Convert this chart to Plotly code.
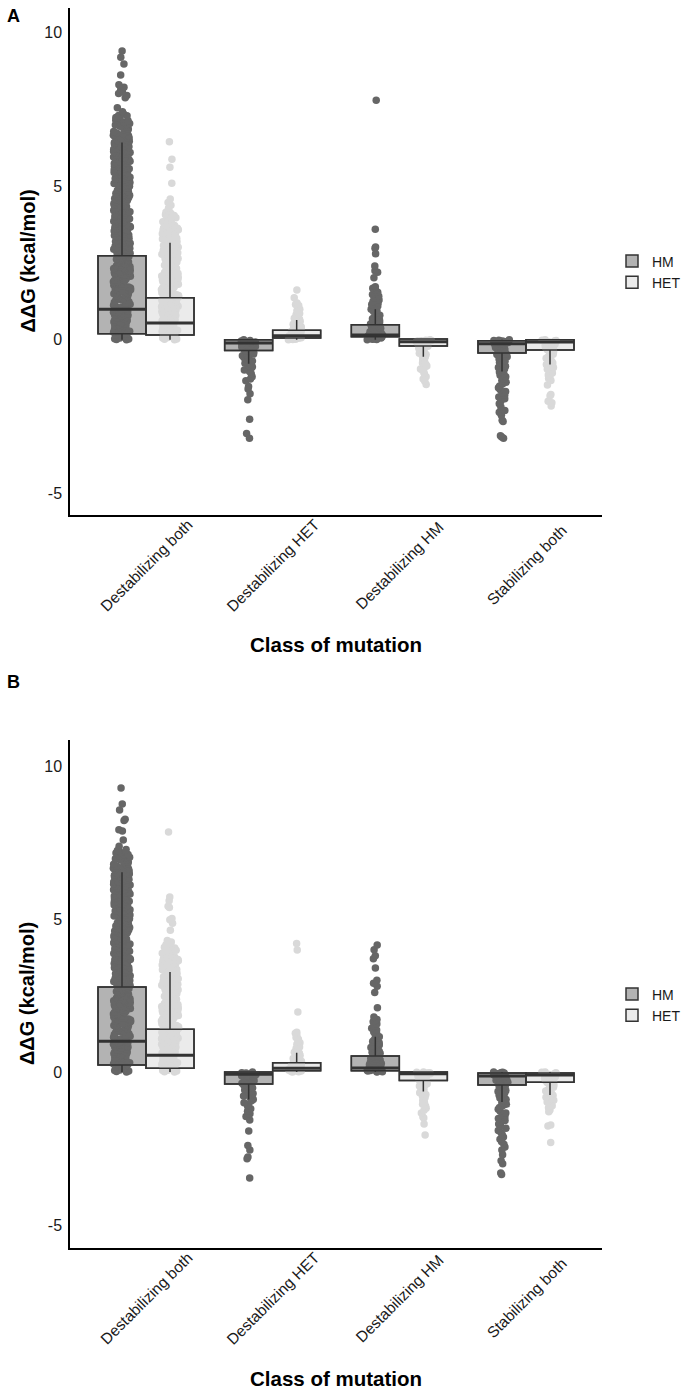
import plotly.graph_objects as go

# ---------------- data ----------------
CATEGORIES = ["Destabilizing both", "Destabilizing HET", "Destabilizing HM", "Stabilizing both"]
GROUPS = ["HM", "HET"]
Y_TICKS = [-5, 0, 5, 10]
Y_TICK_TEXT = ["-5", "0", "5", "10"]

# box statistics: one value per category
A_HM_Q1 = [0.20, -0.35, 0.10, -0.43]
A_HM_MEDIAN = [1.00, -0.10, 0.16, -0.13]
A_HM_Q3 = [2.74, 0.00, 0.49, -0.03]
A_HM_LOW = [0.00, -0.78, 0.00, -1.03]
A_HM_HIGH = [6.42, 0.00, 1.00, 0.00]

A_HET_Q1 = [0.16, 0.06, -0.20, -0.33]
A_HET_MEDIAN = [0.55, 0.13, -0.06, -0.07]
A_HET_Q3 = [1.37, 0.31, 0.03, 0.00]
A_HET_LOW = [0.00, 0.00, -0.55, -0.80]
A_HET_HIGH = [3.16, 0.65, 0.03, 0.00]

B_HM_Q1 = [0.23, -0.39, 0.04, -0.42]
B_HM_MEDIAN = [1.01, -0.07, 0.13, -0.13]
B_HM_Q3 = [2.78, 0.00, 0.52, -0.03]
B_HM_LOW = [0.00, -0.90, 0.00, -0.98]
B_HM_HIGH = [6.53, 0.00, 1.15, 0.00]

B_HET_Q1 = [0.12, 0.04, -0.28, -0.33]
B_HET_MEDIAN = [0.55, 0.12, -0.06, -0.10]
B_HET_Q3 = [1.40, 0.30, 0.00, -0.03]
B_HET_LOW = [0.00, 0.00, -0.64, -0.75]
B_HET_HIGH = [3.27, 0.63, 0.00, 0.00]


def vals(s):
    return [float(t) for t in s.split()]


# individual points
A_HM_DESTAB_BOTH = vals("""
0 0.01 0.03 0.04 0.06 0.09 0.1 0.12 0.15 0.16 0.18 0.21 0.22 0.25 0.27 0.28 0.31 0.34 0.35 0.37
0.4 0.42 0.43 0.46 0.49 0.5 0.52 0.55 0.57 0.58 0.61 0.64 0.65 0.68 0.7 0.71 0.74 0.77 0.79 0.8
0.83 0.86 0.87 0.9 0.92 0.94 0.97 0.99 1.02 1.05 1.07 1.11 1.13 1.16 1.19 1.22 1.24 1.28 1.31 1.33
1.36 1.4 1.42 1.45 1.49 1.51 1.54 1.58 1.6 1.63 1.67 1.69 1.72 1.76 1.78 1.81 1.85 1.87 1.9 1.94
1.96 1.99 2.03 2.05 2.08 2.12 2.14 2.17 2.21 2.23 2.26 2.3 2.32 2.35 2.39 2.41 2.44 2.48 2.5 2.53
2.57 2.59 2.62 2.66 2.68 2.71 2.75 2.77 2.8 2.84 2.86 2.89 2.93 2.95 2.98 3.02 3.05 3.07 3.11 3.14
3.16 3.2 3.23 3.25 3.29 3.32 3.34 3.38 3.41 3.43 3.47 3.5 3.52 3.56 3.59 3.61 3.65 3.68 3.7 3.74
3.77 3.79 3.83 3.86 3.88 3.92 3.95 3.97 4.01 4.04 4.06 4.1 4.13 4.15 4.19 4.22 4.24 4.28 4.31 4.33
4.37 4.4 4.42 4.46 4.49 4.51 4.55 4.58 4.6 4.64 4.67 4.69 4.73 4.76 4.78 4.82 4.85 4.87 4.91 4.94
4.96 5.0 5.03 5.05 5.09 5.12 5.14 5.18 5.21 5.23 5.27 5.3 5.32 5.36 5.39 5.41 5.45 5.48 5.5 5.54
5.57 5.59 5.63 5.66 5.68 5.72 5.75 5.77 5.81 5.84 5.86 5.9 5.93 5.95 5.99 6.02 6.04 6.08 6.11 6.13
6.17 6.2 6.22 6.26 6.29 6.31 6.35 6.38 6.4 6.44 6.47 6.51 6.55 6.58 6.62 6.66 6.69 6.73 6.78 6.81
6.86 6.9 6.95 6.99 7.04 7.08 7.13 7.18 7.24 7.29 7.35 7.42 7.55 7.88 7.95 8.02 8.08 8.15 8.22 8.3
8.62 8.98 9.2 9.4
1.5 1.56 1.62 1.7 1.75 1.83 1.89 1.93 2.01 2.07 2.1 2.16 2.19 2.25 2.29 2.34 2.38 2.43 2.47 2.52
2.56 2.61 2.65 2.7 2.74 2.79 2.82 2.88 2.92 2.97 3.0 3.04 3.09 3.13 3.18 3.22 3.27 3.31 3.36 3.4
3.45 3.49 3.54 3.58 3.63 3.67 3.72 3.76 3.81 3.85 3.9 3.94 3.99 4.03 4.08 4.12 4.17 4.21 4.26 4.3
4.35 4.39 4.44 4.48 4.53 4.57 4.62 4.66 4.71 4.75 4.8 4.84 4.89 4.93 4.98 5.02 5.07 5.11 5.16 5.2
5.25 5.29 5.34 5.38 5.43 5.47 5.52 5.56 5.61 5.65 5.7 5.74 5.79 5.83 5.88 5.92 5.97 6.01 6.06 6.1
6.15 6.19 6.24 6.28 6.33 6.37 6.42 6.46 6.5 6.57 6.64 6.7 6.77 6.84 6.92 7.0 7.07 7.15 7.22 7.3
""")
A_HM_DESTAB_HET = vals("""
0 -0.02 -0.04 -0.05 -0.07 -0.09 -0.11 -0.13 -0.16 -0.18 -0.2 -0.22 -0.25 -0.27 -0.3 -0.32 -0.35
-0.37 -0.4 -0.43 -0.46 -0.49 -0.52 -0.55 -0.58 -0.62 -0.65 -0.69 -0.72 -0.76 -0.8 -0.84 -0.88
-0.92 -0.98 -1.03 -1.1 -1.2 -1.27 -1.33 -1.52 -1.6 -1.75 -1.95 -2.58 -3.05 -3.2
""")
A_HM_DESTAB_HM = vals("""
0 0.01 0.02 0.03 0.04 0.05 0.06 0.07 0.08 0.09 0.1 0.11 0.12 0.14 0.15 0.17 0.18 0.2 0.22 0.24
0.26 0.28 0.3 0.32 0.35 0.38 0.4 0.43 0.46 0.49 0.52 0.55 0.58 0.62 0.65 0.69 0.72 0.76 0.8 0.84
0.88 0.92 0.96 1.0 1.05 1.1 1.15 1.2 1.25 1.3 1.36 1.42 1.48 1.55 1.62 1.68 1.73 2.02 2.2 2.25
2.4 2.8 2.98 3.02 3.6 7.8
""")
A_HM_STAB_BOTH = vals("""
0 -0.01 -0.02 -0.03 -0.04 -0.05 -0.06 -0.08 -0.09 -0.1 -0.12 -0.13 -0.15 -0.17 -0.19 -0.21 -0.23
-0.25 -0.28 -0.3 -0.33 -0.36 -0.39 -0.42 -0.45 -0.48 -0.52 -0.55 -0.58 -0.62 -0.66 -0.7 -0.74
-0.78 -0.82 -0.86 -0.9 -0.95 -1.0 -1.05 -1.1 -1.15 -1.2 -1.26 -1.32 -1.38 -1.44 -1.5 -1.56 -1.62
-1.68 -1.74 -1.8 -1.86 -1.92 -2.0 -2.08 -2.18 -2.3 -2.36 -2.45 -2.62 -2.66 -3.12 -3.16 -3.2
""")
A_HET_DESTAB_BOTH = vals("""
0 0.02 0.03 0.06 0.08 0.09 0.12 0.14 0.15 0.18 0.2 0.22 0.25 0.27 0.28 0.31 0.33 0.35 0.38 0.4
0.41 0.44 0.46 0.48 0.51 0.53 0.54 0.57 0.59 0.61 0.64 0.66 0.67 0.7 0.72 0.74 0.77 0.79 0.8 0.83
0.85 0.87 0.9 0.92 0.93 0.96 0.98 1.0 1.03 1.05 1.06 1.09 1.11 1.13 1.16 1.18 1.19 1.22 1.24 1.26
1.29 1.31 1.32 1.35 1.37 1.39 1.42 1.44 1.45 1.48 1.51 1.54 1.57 1.6 1.63 1.66 1.69 1.72 1.75 1.78
1.81 1.84 1.87 1.9 1.93 1.96 1.99 2.02 2.05 2.08 2.11 2.14 2.17 2.2 2.23 2.26 2.29 2.32 2.35 2.38
2.41 2.44 2.47 2.5 2.53 2.56 2.59 2.62 2.65 2.68 2.71 2.74 2.77 2.8 2.83 2.86 2.89 2.92 2.95 2.98
3.01 3.04 3.07 3.1 3.13 3.16 3.19 3.22 3.25 3.28 3.31 3.34 3.37 3.4 3.43 3.46 3.49 3.52 3.55 3.58
3.61 3.64 3.68 3.72 3.76 3.8 3.84 3.89 3.94 3.99 4.05 4.12 4.2 4.28 4.38 4.47 4.58 5.1 5.62 5.88
6.45
1.02 1.08 1.15 1.21 1.27 1.34 1.4 1.47 1.53 1.59 1.65 1.71 1.77 1.83 1.89 1.95 2.01 2.07 2.13 2.19
2.25 2.31 2.37 2.43 2.49 2.55 2.61 2.67 2.73 2.79 2.85 2.91 2.97 3.03 3.09 3.15 3.21 3.27 3.33 3.39
3.45 3.51 3.57 3.63 3.69 3.75 3.82 3.9 3.97 4.07 4.15
""")
A_HET_DESTAB_HET = vals("""
0 0.01 0.02 0.03 0.04 0.05 0.06 0.07 0.08 0.09 0.1 0.11 0.12 0.13 0.15 0.16 0.17 0.19 0.2 0.22
0.24 0.26 0.28 0.3 0.32 0.34 0.36 0.39 0.42 0.45 0.48 0.51 0.54 0.57 0.6 0.63 0.67 0.7 0.74 0.78
0.82 0.86 0.9 0.95 1.0 1.05 1.12 1.15 1.2 1.37 1.62
""")
A_HET_DESTAB_HM = vals("""
0 -0.01 -0.02 -0.03 -0.04 -0.05 -0.06 -0.07 -0.08 -0.1 -0.11 -0.13 -0.15 -0.17 -0.19 -0.21 -0.24
-0.27 -0.3 -0.33 -0.36 -0.4 -0.44 -0.48 -0.52 -0.56 -0.6 -0.65 -0.7 -0.75 -0.8 -0.85 -0.9 -0.95
-1.0 -1.06 -1.12 -1.2 -1.27 -1.35 -1.45
""")
A_HET_STAB_BOTH = vals("""
0 -0.01 -0.02 -0.03 -0.04 -0.05 -0.07 -0.08 -0.1 -0.12 -0.14 -0.16 -0.18 -0.2 -0.23 -0.26 -0.29
-0.32 -0.35 -0.39 -0.43 -0.47 -0.51 -0.55 -0.6 -0.65 -0.7 -0.75 -0.8 -0.85 -0.9 -0.96 -1.02 -1.08
-1.14 -1.2 -1.26 -1.32 -1.47 -1.78 -1.82 -2.0 -2.05 -2.15
""")

B_HM_DESTAB_BOTH = vals("""
0 0.02 0.03 0.05 0.07 0.1 0.11 0.13 0.16 0.18 0.19 0.22 0.24 0.26 0.29 0.3 0.32 0.35 0.37 0.38
0.41 0.44 0.45 0.47 0.5 0.52 0.54 0.56 0.59 0.6 0.62 0.65 0.67 0.69 0.72 0.73 0.76 0.78 0.81 0.82
0.85 0.88 0.89 0.91 0.94 0.96 0.98 1.01 1.04 1.06 1.09 1.12 1.14 1.17 1.2 1.23 1.25 1.29 1.32 1.34
1.37 1.41 1.43 1.46 1.5 1.52 1.55 1.59 1.61 1.64 1.68 1.7 1.73 1.77 1.79 1.82 1.86 1.88 1.91 1.95
1.97 2.0 2.04 2.06 2.09 2.13 2.15 2.18 2.22 2.24 2.27 2.31 2.33 2.36 2.4 2.42 2.45 2.49 2.51 2.54
2.58 2.6 2.63 2.67 2.69 2.72 2.76 2.78 2.81 2.85 2.87 2.9 2.94 2.96 2.99 3.03 3.06 3.08 3.12 3.15
3.17 3.21 3.24 3.26 3.3 3.33 3.35 3.39 3.42 3.44 3.48 3.51 3.53 3.57 3.6 3.62 3.66 3.69 3.71 3.75
3.78 3.8 3.84 3.87 3.89 3.93 3.96 3.98 4.02 4.05 4.07 4.11 4.14 4.16 4.2 4.23 4.25 4.29 4.32 4.34
4.38 4.41 4.43 4.47 4.5 4.52 4.56 4.59 4.61 4.65 4.68 4.7 4.74 4.77 4.79 4.83 4.86 4.88 4.92 4.95
4.97 5.01 5.04 5.06 5.1 5.13 5.15 5.19 5.22 5.24 5.28 5.31 5.33 5.37 5.4 5.42 5.46 5.49 5.51 5.55
5.58 5.6 5.64 5.67 5.69 5.73 5.76 5.78 5.82 5.85 5.87 5.91 5.94 5.96 6.0 6.03 6.05 6.09 6.12 6.14
6.18 6.21 6.23 6.27 6.3 6.32 6.36 6.39 6.41 6.45 6.48 6.5 6.54 6.57 6.61 6.64 6.68 6.72 6.75 6.8
6.84 6.88 6.93 6.97 7.02 7.06 7.11 7.16 7.22 7.27 7.38 7.58 7.88 7.92 8.22 8.26 8.56 8.76 9.28
1.52 1.58 1.65 1.72 1.76 1.84 1.9 1.94 2.02 2.08 2.11 2.17 2.2 2.26 2.3 2.35 2.39 2.44 2.48 2.53
2.57 2.62 2.66 2.71 2.75 2.8 2.83 2.89 2.93 2.98 3.01 3.05 3.1 3.14 3.19 3.23 3.28 3.32 3.37 3.41
3.46 3.5 3.55 3.59 3.64 3.68 3.73 3.77 3.82 3.86 3.91 3.95 4.0 4.04 4.09 4.13 4.18 4.22 4.27 4.31
4.36 4.4 4.45 4.49 4.54 4.58 4.63 4.67 4.72 4.76 4.81 4.85 4.9 4.94 4.99 5.03 5.08 5.12 5.17 5.21
5.26 5.3 5.35 5.39 5.44 5.48 5.53 5.57 5.62 5.66 5.71 5.75 5.8 5.84 5.89 5.93 5.98 6.02 6.07 6.11
6.16 6.2 6.25 6.29 6.34 6.38 6.43 6.47 6.52 6.59 6.66 6.73 6.79 6.86 6.94 7.01 7.09 7.17 7.24
""")
B_HM_DESTAB_HET = vals("""
0 -0.02 -0.03 -0.05 -0.07 -0.09 -0.12 -0.14 -0.16 -0.19 -0.21 -0.24 -0.26 -0.29 -0.31 -0.34 -0.37
-0.4 -0.43 -0.46 -0.49 -0.52 -0.56 -0.59 -0.63 -0.66 -0.7 -0.74 -0.78 -0.82 -0.86 -0.9 -0.95 -1.0
-1.06 -1.12 -1.2 -1.28 -1.36 -1.45 -1.57 -1.93 -2.4 -2.55 -2.78 -2.83 -3.46
""")
B_HM_DESTAB_HM = vals("""
0 0.01 0.02 0.03 0.04 0.05 0.06 0.07 0.08 0.09 0.1 0.12 0.13 0.15 0.16 0.18 0.2 0.22 0.24 0.26
0.28 0.31 0.33 0.36 0.39 0.42 0.45 0.48 0.51 0.54 0.58 0.61 0.65 0.68 0.72 0.76 0.8 0.84 0.88 0.92
0.96 1.0 1.05 1.1 1.15 1.2 1.25 1.31 1.37 1.43 1.5 1.57 1.64 1.72 1.8 2.1 2.6 2.8 2.9 3.0 3.4 3.7
3.8 4.0 4.15
""")
B_HM_STAB_BOTH = vals("""
0 -0.01 -0.02 -0.03 -0.04 -0.06 -0.07 -0.09 -0.1 -0.12 -0.14 -0.16 -0.18 -0.2 -0.22 -0.25 -0.27
-0.3 -0.33 -0.36 -0.39 -0.42 -0.46 -0.49 -0.53 -0.56 -0.6 -0.64 -0.68 -0.72 -0.76 -0.8 -0.85 -0.9
-0.95 -1.0 -1.05 -1.1 -1.16 -1.22 -1.28 -1.34 -1.4 -1.46 -1.52 -1.58 -1.64 -1.7 -1.77 -1.84 -1.91
-1.98 -2.05 -2.12 -2.2 -2.28 -2.36 -2.45 -2.55 -2.7 -2.9 -3.0 -3.3 -3.35
""")
B_HET_DESTAB_BOTH = vals("""
0 0.01 0.03 0.05 0.06 0.09 0.11 0.12 0.15 0.17 0.19 0.21 0.24 0.25 0.28 0.3 0.32 0.34 0.37 0.39
0.41 0.43 0.46 0.47 0.5 0.52 0.54 0.56 0.59 0.61 0.63 0.65 0.68 0.69 0.72 0.74 0.76 0.78 0.81 0.83
0.85 0.87 0.9 0.91 0.94 0.96 0.98 1.01 1.03 1.05 1.07 1.1 1.12 1.14 1.17 1.19 1.21 1.23 1.26 1.28
1.3 1.33 1.35 1.37 1.4 1.43 1.46 1.49 1.52 1.55 1.58 1.61 1.64 1.67 1.7 1.73 1.76 1.79 1.82 1.85
1.88 1.91 1.94 1.97 2.0 2.03 2.06 2.09 2.12 2.15 2.18 2.21 2.24 2.27 2.3 2.33 2.36 2.39 2.42 2.45
2.48 2.51 2.54 2.57 2.6 2.63 2.66 2.69 2.72 2.75 2.78 2.81 2.84 2.87 2.9 2.93 2.96 2.99 3.02 3.05
3.08 3.11 3.14 3.17 3.2 3.23 3.26 3.29 3.32 3.35 3.38 3.41 3.44 3.47 3.5 3.53 3.56 3.59 3.62 3.65
3.68 3.71 3.74 3.77 3.8 3.84 3.88 3.92 3.96 4.0 4.05 4.1 4.16 4.22 4.3 4.63 4.86 4.98 5.02 5.38
5.42 5.6 5.72 7.84
1.04 1.09 1.16 1.22 1.28 1.35 1.41 1.48 1.54 1.6 1.66 1.72 1.78 1.84 1.9 1.96 2.02 2.08 2.14 2.2
2.26 2.32 2.38 2.44 2.5 2.56 2.62 2.68 2.74 2.8 2.86 2.92 2.98 3.04 3.1 3.16 3.22 3.28 3.34 3.4
3.46 3.52 3.58 3.64 3.7 3.76 3.83 3.91 3.98 4.08 4.18 4.25
""")
B_HET_DESTAB_HET = vals("""
0 0.01 0.02 0.03 0.04 0.05 0.06 0.07 0.08 0.09 0.1 0.11 0.12 0.14 0.15 0.17 0.18 0.2 0.22 0.24
0.26 0.28 0.3 0.33 0.35 0.38 0.41 0.44 0.47 0.5 0.54 0.57 0.61 0.65 0.69 0.73 0.77 0.82 0.86 0.91
0.96 1.01 1.07 1.13 1.2 1.27 1.3 1.96 3.99 4.2
""")
B_HET_DESTAB_HM = vals("""
0 -0.01 -0.02 -0.03 -0.04 -0.05 -0.06 -0.08 -0.09 -0.11 -0.13 -0.15 -0.17 -0.19 -0.22 -0.25 -0.28
-0.31 -0.34 -0.38 -0.42 -0.46 -0.5 -0.54 -0.58 -0.63 -0.68 -0.73 -0.78 -0.83 -0.88 -0.93 -0.99
-1.05 -1.11 -1.18 -1.25 -1.34 -1.47 -1.5 -1.7 -2.06
""")
B_HET_STAB_BOTH = vals("""
0 -0.01 -0.02 -0.03 -0.05 -0.06 -0.08 -0.1 -0.11 -0.13 -0.15 -0.17 -0.2 -0.22 -0.25 -0.28 -0.31
-0.34 -0.38 -0.42 -0.46 -0.5 -0.54 -0.58 -0.62 -0.67 -0.72 -0.77 -0.82 -0.87 -0.92 -0.98 -1.04
-1.1 -1.17 -1.24 -1.3 -1.73 -1.76 -2.3
""")

# ---------------- styling ----------------
FONT = "Liberation Sans, Arial, sans-serif"
TEXT = "#1a1a1a"
LINE = "#333333"
FILL = {"HM": "#b3b3b3", "HET": "#ebebeb"}
POINT = {"HM": "#666666", "HET": "#d9d9d9"}

PANELS = [
    dict(key="A", xa="x", ya="y", xref="x", legend="legend",
         stats={"HM": (A_HM_Q1, A_HM_MEDIAN, A_HM_Q3, A_HM_LOW, A_HM_HIGH),
                "HET": (A_HET_Q1, A_HET_MEDIAN, A_HET_Q3, A_HET_LOW, A_HET_HIGH)},
         points={"HM": [A_HM_DESTAB_BOTH, A_HM_DESTAB_HET, A_HM_DESTAB_HM, A_HM_STAB_BOTH],
                 "HET": [A_HET_DESTAB_BOTH, A_HET_DESTAB_HET, A_HET_DESTAB_HM, A_HET_STAB_BOTH]}),
    dict(key="B", xa="x2", ya="y2", xref="x2", legend="legend2",
         stats={"HM": (B_HM_Q1, B_HM_MEDIAN, B_HM_Q3, B_HM_LOW, B_HM_HIGH),
                "HET": (B_HET_Q1, B_HET_MEDIAN, B_HET_Q3, B_HET_LOW, B_HET_HIGH)},
         points={"HM": [B_HM_DESTAB_BOTH, B_HM_DESTAB_HET, B_HM_DESTAB_HM, B_HM_STAB_BOTH],
                 "HET": [B_HET_DESTAB_BOTH, B_HET_DESTAB_HET, B_HET_DESTAB_HM, B_HET_STAB_BOTH]}),
]

fig = go.Figure()
for p in PANELS:
    common = dict(xaxis=p["xa"], yaxis=p["ya"], alignmentgroup=p["key"], hoverinfo="skip")
    # filled boxes (legend entries)
    for g in GROUPS:
        q1, med, q3, lo, hi = p["stats"][g]
        fig.add_trace(go.Box(name=g, x=CATEGORIES, q1=q1, median=med, q3=q3,
                             lowerfence=lo, upperfence=hi, boxpoints=False,
                             fillcolor=FILL[g], line=dict(color=LINE, width=1.5),
                             whiskerwidth=0, offsetgroup=g, legend=p["legend"],
                             legendgroup=p["key"] + g, showlegend=True, **common))
    # jittered points
    for g in GROUPS:
        xs, ys = [], []
        for cat, arr in zip(CATEGORIES, p["points"][g]):
            xs += [cat] * len(arr)
            ys += arr
        fig.add_trace(go.Box(name=g, x=xs, y=ys, boxpoints="all", jitter=0.36, pointpos=0,
                             fillcolor="rgba(0,0,0,0)",
                             line=dict(color="rgba(0,0,0,0)", width=0),
                             marker=dict(color=POINT[g], size=7.5, line=dict(width=0)),
                             offsetgroup=g, legend=p["legend"], showlegend=False, **common))
    # box outlines drawn over the points
    for g in GROUPS:
        q1, med, q3, lo, hi = p["stats"][g]
        fig.add_trace(go.Box(name=g, x=CATEGORIES, q1=q1, median=med, q3=q3,
                             lowerfence=lo, upperfence=hi, boxpoints=False,
                             fillcolor="rgba(0,0,0,0)", line=dict(color=LINE, width=1.5),
                             whiskerwidth=0, offsetgroup=g, legend=p["legend"],
                             showlegend=False, **common))
    # thick median bars
    for g in GROUPS:
        q1, med, q3, lo, hi = p["stats"][g]
        fig.add_trace(go.Box(name=g, x=CATEGORIES, q1=med, median=med, q3=med,
                             lowerfence=med, upperfence=med, boxpoints=False,
                             fillcolor="rgba(0,0,0,0)", line=dict(color=LINE, width=3),
                             whiskerwidth=0, offsetgroup=g, legend=p["legend"],
                             showlegend=False, **common))

H = 1400.0
W = 700.0


def py(px):
    return 1 - px / H


xaxis_common = dict(type="category", categoryorder="array", categoryarray=CATEGORIES,
                    range=[-0.6, 3.6], showline=True, linecolor="#000", linewidth=1.5,
                    showgrid=False, zeroline=False, ticks="", showticklabels=False,
                    automargin=False)
yaxis_common = dict(showline=True, linecolor="#000", linewidth=1.5, showgrid=False,
                    zeroline=False, ticks="", tickvals=Y_TICKS, ticktext=Y_TICK_TEXT,
                    automargin=False,
                    tickfont=dict(family=FONT, size=16, color=TEXT), ticklabelstandoff=3)

fig.update_layout(
    width=700, height=1400, margin=dict(l=0, r=0, t=0, b=0, autoexpand=False),
    paper_bgcolor="white", plot_bgcolor="white",
    font=dict(family=FONT, color=TEXT),
    boxmode="group", boxgap=0.242, boxgroupgap=0,
    xaxis=dict(domain=[70 / W, 602 / W], anchor="y", **xaxis_common),
    yaxis=dict(domain=[py(515), py(8)], anchor="x", range=[-5.7, 10.8], **yaxis_common),
    xaxis2=dict(domain=[70 / W, 602 / W], anchor="y2", **xaxis_common),
    yaxis2=dict(domain=[py(1248), py(740)], anchor="x2", range=[-5.75, 10.85], **yaxis_common),
    legend=dict(x=612 / W, y=py(272), xanchor="left", yanchor="middle",
                font=dict(family=FONT, size=14, color=TEXT), bgcolor="rgba(0,0,0,0)",
                tracegroupgap=0),
    legend2=dict(x=612 / W, y=py(1005), xanchor="left", yanchor="middle",
                 font=dict(family=FONT, size=14, color=TEXT), bgcolor="rgba(0,0,0,0)",
                 tracegroupgap=0),
    showlegend=True,
)

annots = []
for p, label, ly, ycenter, tick_y, xt_y in [(PANELS[0], "A", 16, 261.5, 565, 645),
                                            (PANELS[1], "B", 682, 994, 1298, 1378)]:
    annots.append(dict(text="<b>%s</b>" % label, x=5 / W, y=py(ly), xref="paper", yref="paper",
                       xanchor="left", yanchor="middle", showarrow=False,
                       font=dict(family=FONT, size=18, color="#000")))
    annots.append(dict(text="<b>Class of mutation</b>", x=336 / W, y=py(xt_y), xref="paper",
                       yref="paper", xanchor="center", yanchor="middle", showarrow=False,
                       font=dict(family=FONT, size=20.5, color="#000")))
    annots.append(dict(text="<b>ΔΔG (kcal/mol)</b>", x=27 / W, y=py(ycenter), xref="paper",
                       yref="paper", xanchor="center", yanchor="middle", showarrow=False,
                       textangle=-90, font=dict(family=FONT, size=20, color="#000")))
    # rotated category labels, centred under each category
    for cat in CATEGORIES:
        annots.append(dict(text=cat, x=cat, xref=p["xref"], y=py(tick_y), yref="paper",
                           xanchor="center", yanchor="middle", showarrow=False,
                           textangle=-45, font=dict(family=FONT, size=15.5, color=TEXT)))
fig.update_layout(annotations=annots)

fig.write_html("out.html", config={"displayModeBar": False},
               post_script="document.body.style.margin='0px';")
